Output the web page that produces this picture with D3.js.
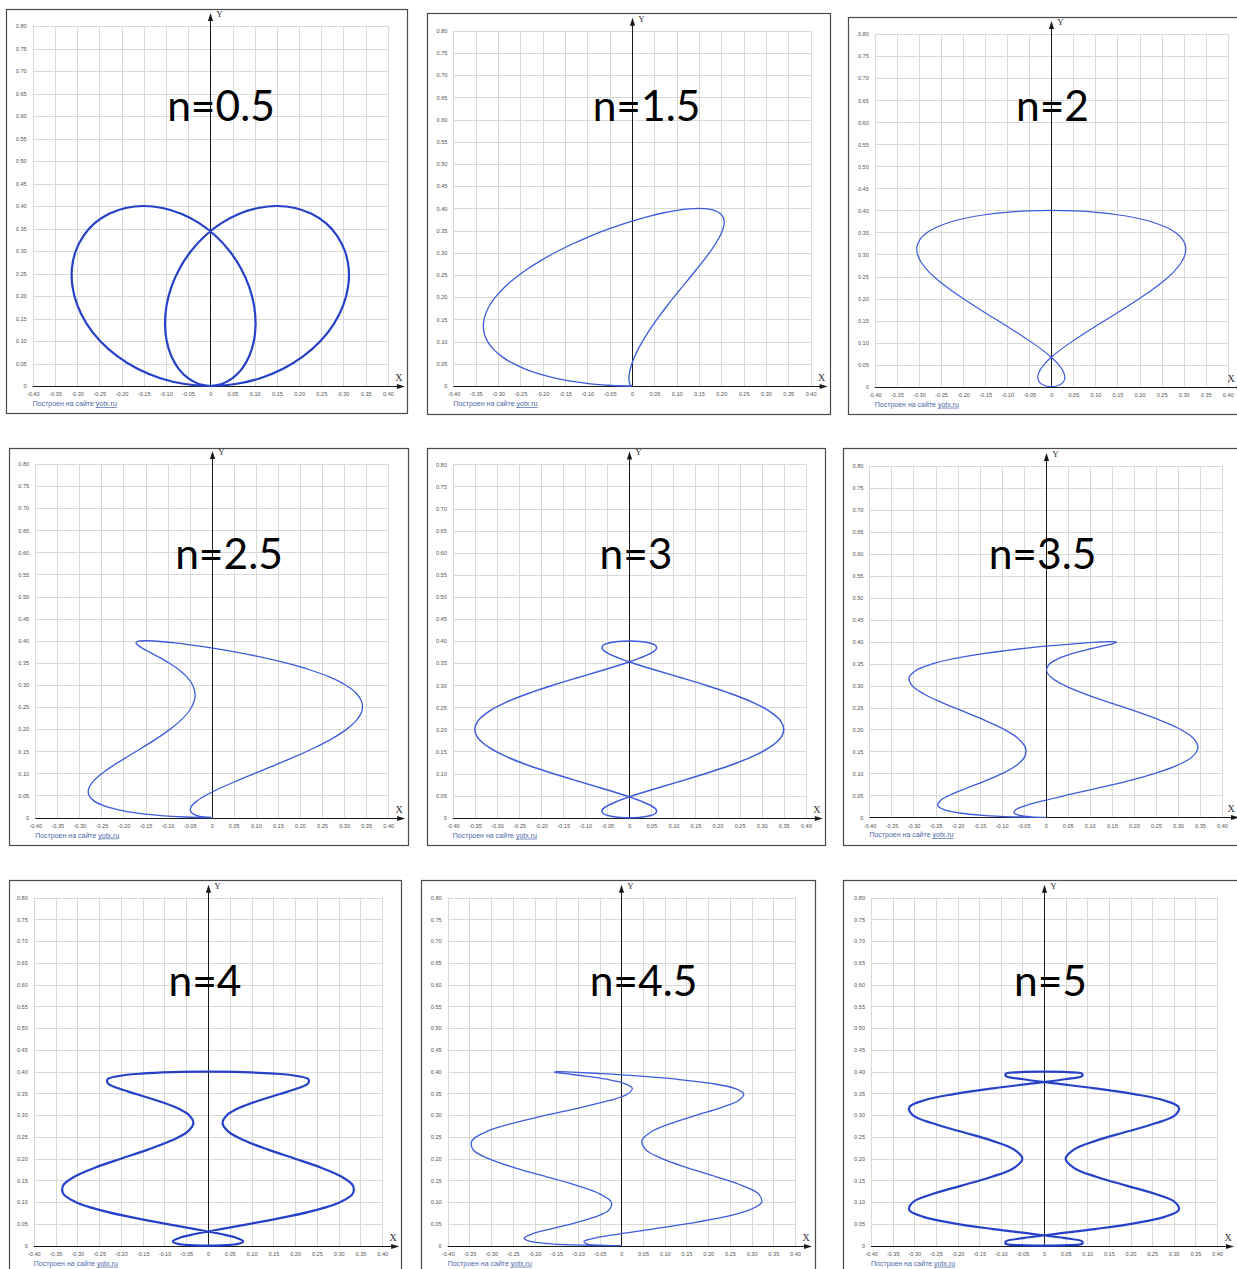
<!DOCTYPE html>
<html>
<head>
<meta charset="utf-8">
<script src="https://cdn.jsdelivr.net/npm/d3@7"></script>
<style>
  html, body { margin: 0; padding: 0; background: #fff; }
  svg { display: block; }
</style>
</head>
<body>
<svg id="chart" width="1237" height="1269"></svg>
<script>
// ---- data -------------------------------------------------------------
// Heights of the traced point, in order along one full swing (shared by n = 1.5 … 5)
const heights = [0,.0011,.0044,.0098,.0173,.0268,.0382,.0514,.0662,.0824,.1,.1187,.1382,.1584,.1791,.2,.2209,.2416,.2618,.2813,.3,.3176,.3338,.3486,.3618,.3732,.3827,.3902,.3956,.3989,.4,
  .3989,.3956,.3902,.3827,.3732,.3618,.3486,.3338,.3176,.3,.2813,.2618,.2416,.2209,.2,.1791,.1584,.1382,.1187,.1,.0824,.0662,.0514,.0382,.0268,.0173,.0098,.0044,.0011,0];

// n = 0.5 closes only after two swings, so it has its own height list
const heightsTwoSwings = [0,.0044,.0173,.0382,.0662,.1,.1382,.1791,.2209,.2618,.3,.3338,.3618,.3827,.3956,.4,.3956,.3827,.3618,.3338,.3,.2618,.2209,.1791,.1382,.1,.0662,.0382,.0173,.0044,0,
  .0044,.0173,.0382,.0662,.1,.1382,.1791,.2209,.2618,.3,.3338,.3618,.3827,.3956,.4,.3956,.3827,.3618,.3338,.3,.2618,.2209,.1791,.1382,.1,.0662,.0382,.0173,.0044,0];

// Horizontal positions of each trace, point by point
const xN05 = [0,.0259,.0501,.0712,.0876,.0982,.1020,.0985,.0874,.0688,.0433,.0116,-.0251,-.0654,-.1076,-.15,-.1908,-.2280,-.2603,-.2856,-.3031,-.3116,-.3104,-.2993,-.2784,-.2482,-.2096,-.1640,-.1125,-.0573,0,
  .0573,.1125,.1640,.2096,.2482,.2784,.2993,.3104,.3116,.3031,.2856,.2603,.2280,.1908,.15,.1076,.0654,.0251,-.0116,-.0433,-.0688,-.0874,-.0985,-.1020,-.0982,-.0876,-.0712,-.0501,-.0259,0];
const xN15 = [0,-.0026,-.0048,-.0063,-.0069,-.0061,-.0038,.0001,.0059,.0136,.0232,.0345,.0475,.0619,.0775,.0939,.1107,.1275,.1438,.1592,.1732,.1853,.1950,.2019,.2058,.2061,.2027,.1955,.1843,.1691,.15,
  .1273,.1011,.0719,.0401,.0061,-.0294,-.0657,-.1022,-.1383,-.1732,-.2062,-.2366,-.2637,-.2871,-.3061,-.3203,-.3293,-.3329,-.3309,-.3232,-.3100,-.2913,-.2675,-.2390,-.2061,-.1695,-.1299,-.0880,-.0444,0];
const xN2 = [0,-.0103,-.0194,-.0264,-.0302,-.0299,-.0251,-.0154,-.0006,.0191,.0433,.0712,.1020,.1346,.1677,.2,.2301,.2566,.2784,.2942,.3031,.3045,.2978,.2830,.2603,.2299,.1928,.1500,.1026,.0521,0,
  -.0521,-.1026,-.1500,-.1928,-.2299,-.2603,-.2830,-.2978,-.3045,-.3031,-.2942,-.2784,-.2566,-.2301,-.2,-.1677,-.1346,-.1020,-.0712,-.0433,-.0191,.0006,.0154,.0251,.0299,.0302,.0264,.0194,.0103,0];
const xN25 = [0,-.0179,-.0334,-.0443,-.0486,-.0449,-.0324,-.0111,.0187,.0557,.0982,.1439,.1902,.2344,.2739,.3061,.3288,.3405,.3402,.3276,.3031,.2679,.2236,.1726,.1176,.0612,.0063,-.0443,-.0883,-.1240,-.15,
  -.1658,-.1715,-.1679,-.1563,-.1388,-.1176,-.0950,-.0736,-.0557,-.0433,-.0378,-.0402,-.0507,-.0690,-.0939,-.1239,-.1568,-.1902,-.2215,-.2482,-.2679,-.2785,-.2787,-.2676,-.2449,-.2112,-.1679,-.1166,-.0597,0];
const xN3 = [0,-.0255,-.0466,-.0596,-.0614,-.05,-.0251,.0124,.0604,.1154,.1732,.2291,.2784,.3170,.3416,.35,.3416,.3170,.2784,.2291,.1732,.1154,.0604,.0124,-.0251,-.05,-.0614,-.0596,-.0466,-.0255,0,
  .0255,.0466,.0596,.0614,.05,.0251,-.0124,-.0604,-.1154,-.1732,-.2291,-.2784,-.3170,-.3416,-.35,-.3416,-.3170,-.2784,-.2291,-.1732,-.1154,-.0604,-.0124,.0251,.05,.0614,.0596,.0466,.0255,0];
const xN35 = [0,-.0329,-.0588,-.0719,-.0679,-.0449,-.0038,.0521,.1174,.1853,.2482,.2993,.3329,.3454,.3359,.3061,.2599,.2035,.1438,.0883,.0433,.0136,.0019,.0080,.0294,.0612,.0970,.1299,.1531,.1609,.15,
  .1191,.0699,.0063,-.0656,-.1388,-.2058,-.2596,-.2953,-.3100,-.3031,-.2771,-.2366,-.1877,-.1379,-.0939,-.0619,-.0458,-.0475,-.0661,-.0982,-.1383,-.1798,-.2155,-.2390,-.2449,-.2305,-.1955,-.1420,-.0747,0];
const xN4 = [0,-.0401,-.0699,-.0809,-.0679,-.0299,.0294,.1026,.1798,.2500,.3031,.3319,.3329,.3071,.2599,.2,.1379,.0841,.0475,.0335,.0433,.0736,.1174,.1650,.2058,.2299,.2305,.2045,.1531,.0819,0,
  -.0819,-.1531,-.2045,-.2305,-.2299,-.2058,-.1650,-.1174,-.0736,-.0433,-.0335,-.0475,-.0841,-.1379,-.2,-.2599,-.3071,-.3329,-.3319,-.3031,-.2500,-.1798,-.1026,-.0294,.0299,.0679,.0809,.0699,.0401,0];
const xN45 = [0,-.0472,-.0798,-.0864,-.0614,-.0061,.0712,.1573,.2368,.2955,.3232,.3164,.2784,.2191,.1525,.0939,.0562,.0474,.0688,.1146,.1732,.2299,.2700,.2820,.2603,.2061,.1277,.0383,-.0466,-.1128,-.15,
  -.1546,-.1298,-.0853,-.0349,.0061,.0251,.0144,-.0272,-.0937,-.1732,-.2508,-.3116,-.3438,-.3416,-.3061,-.2453,-.1721,-.1020,-.0490,-.0232,-.0281,-.0604,-.1103,-.1640,-.2061,-.2240,-.2100,-.1630,-.0890,0];
const xN5 = [0,-.0541,-.0883,-.0882,-.0486,.025,.1176,.2088,.2785,.3118,.3031,.2577,.1902,.1206,.0690,.05,.0690,.1206,.1902,.2577,.3031,.3118,.2785,.2088,.1176,.025,-.0486,-.0882,-.0883,-.0541,0,
  .0541,.0883,.0882,.0486,-.025,-.1176,-.2088,-.2785,-.3118,-.3031,-.2577,-.1902,-.1206,-.0690,-.05,-.0690,-.1206,-.1902,-.2577,-.3031,-.3118,-.2785,-.2088,-.1176,-.025,.0486,.0882,.0883,.0541,0];

const panelTitles = ["n=0.5", "n=1.5", "n=2", "n=2.5", "n=3", "n=3.5", "n=4", "n=4.5", "n=5"];
const panelXs = [xN05, xN15, xN2, xN25, xN3, xN35, xN4, xN45, xN5];
const panelYs = [heightsTwoSwings, heights, heights, heights, heights, heights, heights, heights, heights];

// Tick values for both axes
const xTickValues = [-0.40,-0.35,-0.30,-0.25,-0.20,-0.15,-0.10,-0.05,0,0.05,0.10,0.15,0.20,0.25,0.30,0.35,0.40];
const yTickValues = [0,0.05,0.10,0.15,0.20,0.25,0.30,0.35,0.40,0.45,0.50,0.55,0.60,0.65,0.70,0.75,0.80];
const footerText = "Построен на сайте ";
const footerLink = "yotx.ru";

// ---- layout -----------------------------------------------------------
// frame: [left, top, right, bottom]; plot: [px of x=-0.4, px of x=0.4, px of y=0.8, px of y=0]
const layout = [
  { frame: [6, 9, 407, 413],     plot: [32.7, 387.9, 26, 386],       title: [221, 121],  bold: true  },
  { frame: [427, 13, 830, 414],  plot: [453.4, 810.6, 30.8, 386],    title: [646.5, 121], bold: false },
  { frame: [848, 17, 1240, 414], plot: [874.8, 1227.8, 34.1, 386.7], title: [1052.5, 121], bold: false },
  { frame: [9, 448, 408, 845],   plot: [35.2, 388.2, 464, 817.5],    title: [229, 569],  bold: false },
  { frame: [427, 448, 825, 845], plot: [452.8, 805.8, 464.4, 817.7], title: [636, 569],  bold: false },
  { frame: [843, 448, 1240, 845],plot: [869.4, 1222, 466, 817.3],    title: [1042.5, 569], bold: false },
  { frame: [9, 880, 401, 1275],  plot: [33.8, 382.2, 897.7, 1245.7], title: [205, 996],  bold: true  },
  { frame: [421, 880, 815, 1275],plot: [447.7, 795, 897.7, 1245.7],  title: [643.5, 996], bold: false },
  { frame: [843, 880, 1240, 1275],plot: [871, 1217, 897.7, 1245.7],  title: [1050.5, 996], bold: true }
];
const lineWidths = [2.2, 1.3, 1.2, 1.3, 1.5, 1.3, 2.2, 1.3, 2.2];

const fmt = d => d === 0 ? "0" : (d < 0 ? "-" : "") + Math.abs(d).toFixed(2);

// ---- drawing ----------------------------------------------------------
const svg = d3.select("#chart");
const pageWidth = +svg.attr("width");

panelTitles.forEach((title, i) => {
  const L = layout[i];
  const [fl, ft, fr, fb] = L.frame;
  const [px0, px1, pyT, pyB] = L.plot;
  const g = svg.append("g");

  g.append("rect")
    .attr("x", fl + 0.5).attr("y", ft + 0.5)
    .attr("width", fr - fl).attr("height", fb - ft)
    .attr("fill", "#fff").attr("stroke", "#4a4a4a").attr("stroke-width", 1.2);

  const x = d3.scaleLinear().domain([-0.4, 0.4]).range([px0, px1]);
  const y = d3.scaleLinear().domain([0, 0.8]).range([pyB, pyT]);
  const snap = v => Math.round(v) + 0.5;

  // grid
  g.append("g").selectAll("line").data(xTickValues).join("line")
    .attr("x1", d => snap(x(d))).attr("x2", d => snap(x(d)))
    .attr("y1", y(0)).attr("y2", y(0.8))
    .attr("stroke", "#d9d9d9").attr("stroke-width", 1);
  g.append("g").selectAll("line").data(yTickValues).join("line")
    .attr("x1", x(-0.4)).attr("x2", x(0.4))
    .attr("y1", d => snap(y(d))).attr("y2", d => snap(y(d)))
    .attr("stroke", "#d9d9d9").attr("stroke-width", 1);

  // tick labels
  const xAxis = d3.axisBottom(x).tickValues(xTickValues).tickSize(0).tickPadding(6.5).tickFormat(fmt);
  g.append("g").attr("transform", `translate(0,${y(0)})`).call(xAxis)
    .call(a => a.select(".domain").remove())
    .attr("font-size", 5.6).attr("font-family", "'Liberation Sans', Arial, sans-serif")
    .selectAll("text").attr("fill", "#555");
  const yAxis = d3.axisLeft(y).tickValues(yTickValues).tickSize(0).tickPadding(6).tickFormat(fmt);
  g.append("g").attr("transform", `translate(${x(-0.4)},0)`).call(yAxis)
    .call(a => a.select(".domain").remove())
    .attr("font-size", 5.6).attr("font-family", "'Liberation Sans', Arial, sans-serif")
    .selectAll("text").attr("fill", "#555");

  // axes with arrows
  const ax0 = snap(y(0)), ay0 = snap(x(0));
  const xEnd = x(0.4) + 17, yEnd = y(0.8) - 13;
  g.append("line").attr("x1", x(-0.4)).attr("x2", xEnd - 3).attr("y1", ax0).attr("y2", ax0)
    .attr("stroke", "#1a1a1a").attr("stroke-width", 1);
  g.append("path").attr("d", `M${xEnd},${ax0}L${xEnd - 8},${ax0 - 2.6}L${xEnd - 8},${ax0 + 2.6}Z`).attr("fill", "#1a1a1a");
  g.append("line").attr("x1", ay0).attr("x2", ay0).attr("y1", y(0)).attr("y2", yEnd + 3)
    .attr("stroke", "#1a1a1a").attr("stroke-width", 1);
  g.append("path").attr("d", `M${ay0},${yEnd}L${ay0 - 2.6},${yEnd + 8}L${ay0 + 2.6},${yEnd + 8}Z`).attr("fill", "#1a1a1a");
  g.append("text").attr("x", Math.min(x(0.4) + 11, pageWidth - 6)).attr("y", ax0 - 6).attr("text-anchor", "middle")
    .attr("font-family", "'Liberation Serif', 'Times New Roman', serif").attr("font-size", 10)
    .attr("fill", "#333").text("X");
  g.append("text").attr("x", ay0 + 9).attr("y", yEnd + 4).attr("text-anchor", "middle")
    .attr("font-family", "'Liberation Serif', 'Times New Roman', serif").attr("font-size", 9)
    .attr("fill", "#333").text("Y");

  // footer
  const foot = g.append("text").attr("x", x(-0.4)).attr("y", y(0) + 20)
    .attr("font-family", "'Liberation Sans', Arial, sans-serif").attr("font-size", 7).attr("fill", "#4a67a8");
  foot.append("tspan").text(footerText);
  foot.append("tspan").attr("text-decoration", "underline").text(footerLink);

  // trace
  const pts = d3.zip(panelXs[i], panelYs[i]);
  const line = d3.line().x(d => x(d[0])).y(d => y(d[1])).curve(d3.curveCatmullRom.alpha(0.5));
  g.append("path").datum(pts).attr("d", line)
    .attr("fill", "none")
    .attr("stroke", L.bold ? "#2541c8" : "#3d5bdb")
    .attr("stroke-width", lineWidths[i])
    .attr("stroke-linejoin", "round");

  // big title
  g.append("text").attr("x", L.title[0]).attr("y", L.title[1]).attr("text-anchor", "middle")
    .attr("font-family", "Lato, 'Open Sans', sans-serif").attr("font-size", 42.5)
    .attr("fill", "#000").text(title);
});
</script>
</body>
</html>
